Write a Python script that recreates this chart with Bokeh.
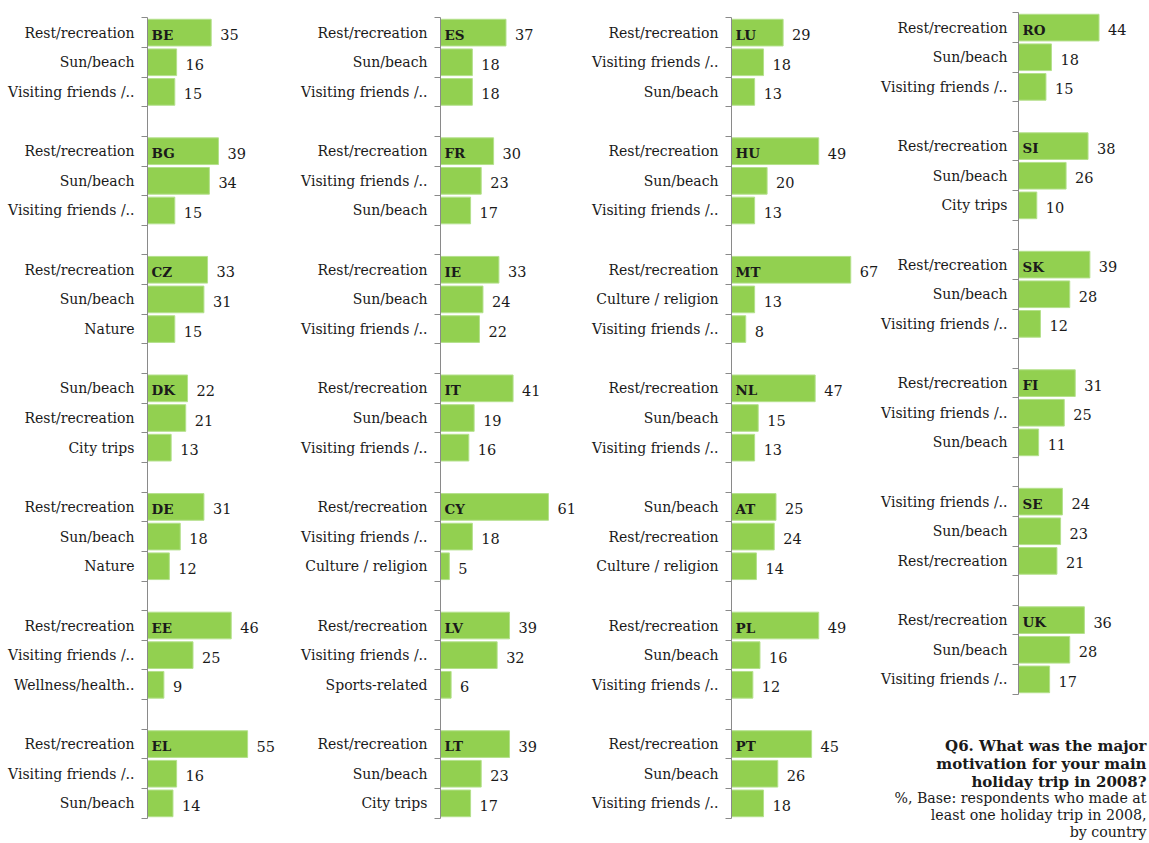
from bokeh.plotting import figure
from bokeh.layouts import row, column
from bokeh.models import Range1d, FixedTicker, ColumnDataSource
from bokeh.core.properties import value
from bokeh.embed import file_html
from bokeh.resources import INLINE

# ---------------- data ----------------
col1_countries = ["BE", "BG", "CZ", "DK", "DE", "EE", "EL"]
col1_motives = [
    ["Rest/recreation", "Sun/beach", "Visiting friends /.."],
    ["Rest/recreation", "Sun/beach", "Visiting friends /.."],
    ["Rest/recreation", "Sun/beach", "Nature"],
    ["Sun/beach", "Rest/recreation", "City trips"],
    ["Rest/recreation", "Sun/beach", "Nature"],
    ["Rest/recreation", "Visiting friends /..", "Wellness/health.."],
    ["Rest/recreation", "Visiting friends /..", "Sun/beach"],
]
col1_values = [[35, 16, 15], [39, 34, 15], [33, 31, 15], [22, 21, 13],
               [31, 18, 12], [46, 25, 9], [55, 16, 14]]

col2_countries = ["ES", "FR", "IE", "IT", "CY", "LV", "LT"]
col2_motives = [
    ["Rest/recreation", "Sun/beach", "Visiting friends /.."],
    ["Rest/recreation", "Visiting friends /..", "Sun/beach"],
    ["Rest/recreation", "Sun/beach", "Visiting friends /.."],
    ["Rest/recreation", "Sun/beach", "Visiting friends /.."],
    ["Rest/recreation", "Visiting friends /..", "Culture / religion"],
    ["Rest/recreation", "Visiting friends /..", "Sports-related"],
    ["Rest/recreation", "Sun/beach", "City trips"],
]
col2_values = [[37, 18, 18], [30, 23, 17], [33, 24, 22], [41, 19, 16],
               [61, 18, 5], [39, 32, 6], [39, 23, 17]]

col3_countries = ["LU", "HU", "MT", "NL", "AT", "PL", "PT"]
col3_motives = [
    ["Rest/recreation", "Visiting friends /..", "Sun/beach"],
    ["Rest/recreation", "Sun/beach", "Visiting friends /.."],
    ["Rest/recreation", "Culture / religion", "Visiting friends /.."],
    ["Rest/recreation", "Sun/beach", "Visiting friends /.."],
    ["Sun/beach", "Rest/recreation", "Culture / religion"],
    ["Rest/recreation", "Sun/beach", "Visiting friends /.."],
    ["Rest/recreation", "Sun/beach", "Visiting friends /.."],
]
col3_values = [[29, 18, 13], [49, 20, 13], [67, 13, 8], [47, 15, 13],
               [25, 24, 14], [49, 16, 12], [45, 26, 18]]

col4_countries = ["RO", "SI", "SK", "FI", "SE", "UK"]
col4_motives = [
    ["Rest/recreation", "Sun/beach", "Visiting friends /.."],
    ["Rest/recreation", "Sun/beach", "City trips"],
    ["Rest/recreation", "Sun/beach", "Visiting friends /.."],
    ["Rest/recreation", "Visiting friends /..", "Sun/beach"],
    ["Visiting friends /..", "Sun/beach", "Rest/recreation"],
    ["Rest/recreation", "Sun/beach", "Visiting friends /.."],
]
col4_values = [[44, 18, 15], [38, 26, 10], [39, 28, 12], [31, 25, 11],
               [24, 23, 21], [36, 28, 17]]

title_lines = ["Q6. What was the major", "motivation for your main",
               "holiday trip in 2008?"]
note_lines = ["%, Base: respondents who made at",
              "least one holiday trip in 2008,", "by country"]

# ---------------- style ----------------
FONT = "DejaVu Serif"
GREEN = "#92D050"
EDGE = "#B4E08C"
AXIS = "#8a8a8a"
TXT = "#1a1a1a"
SLOT = 29.667
H = 842


def make_panel(countries, motives, vals, width, height, border_left, ppu, border_top, standoff):
    n_slots = len(countries) * 4 - 1
    frame_h = int(round(n_slots * SLOT))
    border_bottom = height - border_top - frame_h
    frame_w = width - border_left
    x_end = frame_w / ppu
    eps = 0.01
    p = figure(width=width, height=height, output_backend="svg", toolbar_location=None,
               x_range=Range1d(0, x_end),
               y_range=Range1d(n_slots - 0.5 + eps, -0.5 - eps),
               x_axis_type=None,
               min_border_left=border_left, min_border_right=0,
               min_border_top=border_top, min_border_bottom=border_bottom)
    p.outline_line_color = None
    p.grid.visible = False
    p.background_fill_color = "white"
    p.border_fill_color = "white"

    ys, rights, labels, cy, cx, codes = [], [], [], [], [], []
    overrides = {}
    for k, (c, mots, vs) in enumerate(zip(countries, motives, vals)):
        for j, (m, v) in enumerate(zip(mots, vs)):
            y = k * 4 + j
            ys.append(y)
            rights.append(v)
            labels.append(str(v))
            overrides[y] = m
        cy.append(k * 4)
        cx.append(0)
        codes.append(c)

    src = ColumnDataSource(dict(y=ys, right=rights, label=labels))
    p.hbar(y="y", left=0, right="right", height=0.9, source=src,
           fill_color=GREEN, line_color=EDGE, line_width=1)
    p.text(x="right", y="y", text="label", source=src, x_offset=9, y_offset=2,
           text_font=value(FONT), text_font_size="14.5px", text_color=TXT,
           text_align="left", text_baseline="middle")
    csrc = ColumnDataSource(dict(x=cx, y=cy, code=codes))
    p.text(x="x", y="y", text="code", source=csrc, x_offset=4, y_offset=2,
           text_font=value(FONT), text_font_size="13.5px", text_font_style="bold",
           text_color=TXT, text_align="left", text_baseline="middle")

    ax = p.yaxis[0]
    ax.ticker = FixedTicker(ticks=ys, minor_ticks=[i - 0.5 for i in range(n_slots + 1)])
    ax.major_label_overrides = overrides
    ax.axis_line_color = AXIS
    ax.axis_line_width = 1
    ax.major_tick_out = 0
    ax.major_tick_in = 0
    ax.minor_tick_out = 6
    ax.minor_tick_in = 0
    ax.minor_tick_line_color = AXIS
    ax.major_label_standoff = standoff
    ax.major_label_text_font = FONT
    ax.major_label_text_font_size = "14px"
    ax.major_label_text_color = TXT
    return p


p1 = make_panel(col1_countries, col1_motives, col1_values, 290, H, 147, 1.82, 17, 7)
p2 = make_panel(col2_countries, col2_motives, col2_values, 295, H, 150, 1.77, 17, 7)
p3 = make_panel(col3_countries, col3_motives, col3_values, 293, H, 146, 1.78, 17, 7)
p4 = make_panel(col4_countries, col4_motives, col4_values, 270, 700, 140, 1.83, 12, 5)

# question text block below the last column
tw, th = 270, H - 700
pt = figure(width=tw, height=th, output_backend="svg", toolbar_location=None,
            x_range=Range1d(0, tw), y_range=Range1d(th, 0),
            x_axis_type=None, y_axis_type=None,
            min_border_left=0, min_border_right=0,
            min_border_top=0, min_border_bottom=0)
pt.outline_line_color = None
pt.grid.visible = False
tsrc = ColumnDataSource(dict(x=[tw - 2] * 3, y=[45, 63, 81], t=title_lines))
pt.text(x="x", y="y", text="t", source=tsrc, text_font=value(FONT),
        text_font_size="15px", text_font_style="bold", text_color=TXT,
        text_align="right", text_baseline="alphabetic")
nsrc = ColumnDataSource(dict(x=[tw - 2] * 3, y=[97, 114, 131], t=note_lines))
pt.text(x="x", y="y", text="t", source=nsrc, text_font=value(FONT),
        text_font_size="14.2px", text_color=TXT,
        text_align="right", text_baseline="alphabetic")

layout = row(p1, p2, p3, column(p4, row(pt)))
open("out.html", "w").write(file_html(layout, INLINE))
